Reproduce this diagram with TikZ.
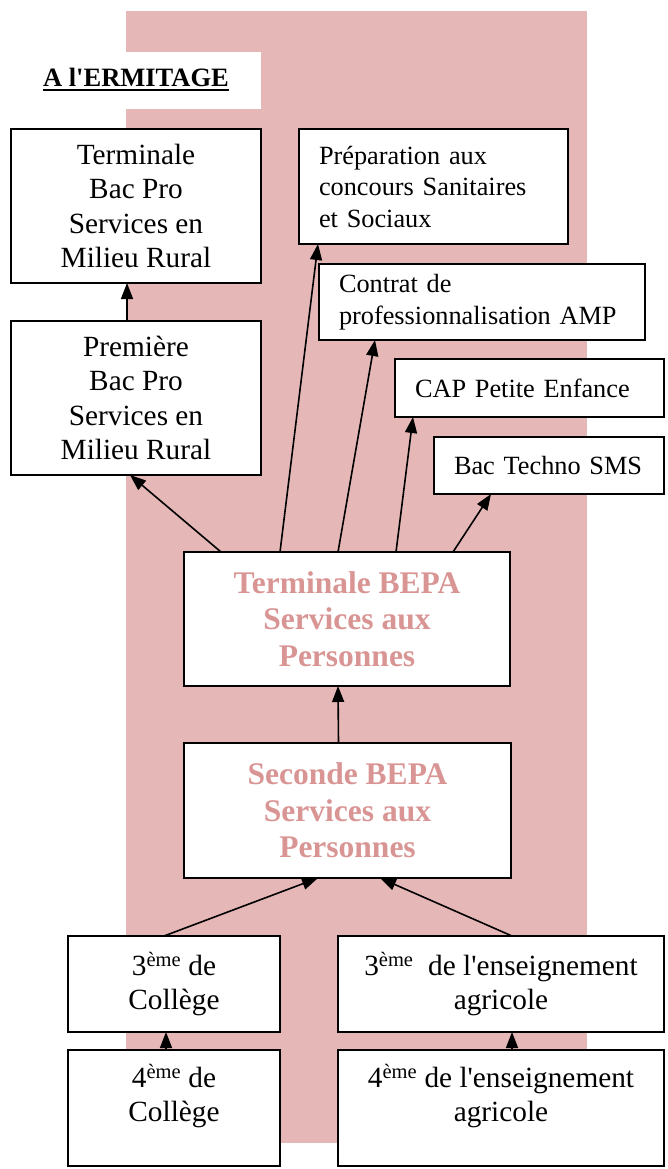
\documentclass[tikz,border=0pt]{standalone}
\usepackage{fontspec}
\setmainfont{Liberation Serif}
\usetikzlibrary{arrows.meta}
\definecolor{rosebg}{HTML}{E5B8B7}
\definecolor{rosetxt}{HTML}{D99594}

\begin{document}
\begin{tikzpicture}[x=1pt,y=-1pt,
    box/.style={draw,line width=1.6pt,fill=white,outer sep=0pt,inner sep=0pt,align=center,font=\fontsize{29.3}{34.4}\selectfont},
    leftbox/.style={draw,line width=1.6pt,fill=white,outer sep=0pt,inner xsep=20pt,inner ysep=0pt,align=left,font=\fontsize{26.3}{31.5}\selectfont},
    bepabox/.style={box,text=rosetxt,font=\bfseries\fontsize{31.5}{36.5}\selectfont},
    link/.style={-{Triangle[length=16pt,width=12pt]},line width=1.6pt}]
  \useasboundingbox (0,0) rectangle (668,1169); % page
  \fill[rosebg] (126,11) rectangle (587,1143); % pink band
  \fill[white] (126,52) rectangle (261,109); % behind title
  \node[anchor=base,inner sep=0pt,font=\bfseries\fontsize{26.5}{30}\selectfont] (title) at (136,87) {A l\textquotesingle ERMITAGE};
  \draw[line width=2pt] ([yshift=-3.5pt]title.base west) -- ([yshift=-3.5pt]title.base east); % underline

  % left column
  \node[box,minimum width=250pt,minimum height=154pt] (tbp) at (136,206) {Terminale\\Bac Pro\\Services en\\Milieu Rural};
  \node[box,minimum width=250pt,minimum height=154pt] (pbp) at (136,398) {Première\\Bac Pro\\Services en\\Milieu Rural};

  % right column
  \node[leftbox,text width=229pt,minimum height=115pt] (prep) at (433.5,186.5) {Préparation aux\\concours Sanitaires\\et Sociaux};
  \node[leftbox,text width=286pt,minimum height=76pt] (contrat) at (482,302) {Contrat de\\professionnalisation AMP};
  \node[leftbox,text width=229pt,minimum height=58pt] (cap) at (529.5,388) {CAP Petite Enfance};
  \node[leftbox,text width=190pt,minimum height=57pt] (bact) at (549,465.5) {Bac Techno SMS};

  % BEPA
  \node[bepabox,minimum width=326pt,minimum height=134pt] (tbepa) at (347,619) {Terminale BEPA\\Services aux\\Personnes};
  \node[bepabox,minimum width=327pt,minimum height=135pt] (sbepa) at (347.5,810.5) {Seconde BEPA\\Services aux\\Personnes};

  % bottom
  \node[box,minimum width=212pt,minimum height=96pt] (c3) at (174,984) {3\textsuperscript{ème} de\\Collège};
  \node[box,minimum width=326pt,minimum height=96pt] (a3) at (501,984) {3\textsuperscript{ème}\ \ de l\textquotesingle enseignement\\agricole};
  \node[box,minimum width=212pt,minimum height=116pt] (c4) at (174,1108) {4\textsuperscript{ème} de\\Collège\\[-14pt]\strut};
  \node[box,minimum width=326pt,minimum height=116pt] (a4) at (501,1108) {4\textsuperscript{ème} de l\textquotesingle enseignement\\agricole\\[-14pt]\strut};

  % arrows
  \draw[link] ([xshift=-9pt]pbp.north) -- ([xshift=-9pt]tbp.south);
  \draw[link] ([xshift=37pt]tbepa.north west) -- ([xshift=-6pt]pbp.south);
  \draw[link] ([xshift=96pt]tbepa.north west) -- ([xshift=19pt]prep.south west);
  \draw[link] ([xshift=154pt]tbepa.north west) -- ([xshift=56pt]contrat.south west);
  \draw[link] ([xshift=212pt]tbepa.north west) -- ([xshift=18pt]cap.south west);
  \draw[link] ([xshift=269pt]tbepa.north west) -- ([xshift=57pt]bact.south west);
  \draw[link] ([xshift=-9pt]sbepa.north) -- ([xshift=-9pt]tbepa.south);
  \draw[link] ([xshift=-10pt]c3.north) -- ([xshift=-29.5pt]sbepa.south);
  \draw[link] ([xshift=11pt]a3.north) -- ([xshift=32.5pt]sbepa.south);
  \draw[link] ([xshift=-8pt]c4.north) -- ([xshift=-8pt]c3.south);
  \draw[link] ([xshift=11pt]a4.north) -- ([xshift=11pt]a3.south);
\end{tikzpicture}
\end{document}
